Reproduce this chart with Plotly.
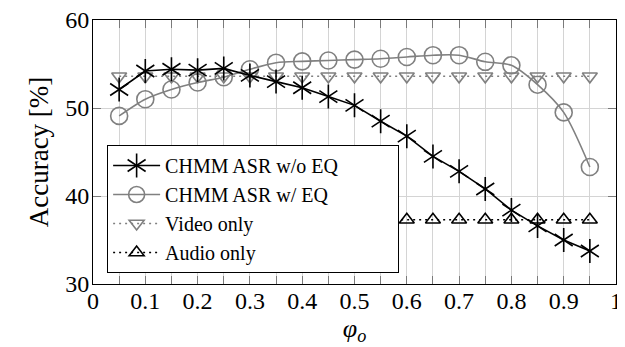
import plotly.graph_objects as go

phi = [0.05, 0.10, 0.15, 0.20, 0.25, 0.30, 0.35, 0.40, 0.45, 0.50,
       0.55, 0.60, 0.65, 0.70, 0.75, 0.80, 0.85, 0.90, 0.95]
chmm_wo_eq = [52.1, 54.2, 54.4, 54.3, 54.5, 53.7, 53.0, 52.3, 51.3, 50.3,
              48.5, 46.8, 44.5, 42.8, 40.8, 38.4, 36.6, 35.0, 33.75]
chmm_w_eq = [49.1, 51.0, 52.1, 52.9, 53.5, 54.4, 55.15, 55.3, 55.4, 55.5,
             55.6, 55.8, 56.0, 56.0, 55.25, 54.85, 52.65, 49.5, 43.3]
video_only = [53.6] * 19
audio_only = [37.3] * 19

names = ["CHMM ASR w/o EQ", "CHMM ASR w/ EQ", "Video only", "Audio only"]

FONT = "Liberation Serif"
GRAY = "#808080"
PAD = "\u00a0" * 11

fig = go.Figure()

fig.add_trace(go.Scatter(
    x=phi, y=video_only, name=names[2], mode="lines+markers",
    line=dict(color=GRAY, width=1.5, dash="2px,4px"),
    marker=dict(symbol="triangle-down-open", size=13, color=GRAY, line=dict(width=1.6)),
    legendrank=3))
fig.add_trace(go.Scatter(
    x=phi, y=audio_only, name=names[3], mode="lines+markers",
    line=dict(color="black", width=1.5, dash="2px,4px"),
    marker=dict(symbol="triangle-up-open", size=13, color="black", line=dict(width=1.6)),
    legendrank=4))
fig.add_trace(go.Scatter(
    x=phi, y=chmm_w_eq, name=names[1], mode="lines+markers",
    line=dict(color=GRAY, width=1.6, shape="spline", smoothing=0.8),
    marker=dict(symbol="circle-open", size=17, color=GRAY, line=dict(width=1.6)),
    legendrank=2))
fig.add_trace(go.Scatter(
    x=phi, y=chmm_wo_eq, name=names[0] + PAD, mode="lines+markers",
    line=dict(color="black", width=1.6),
    marker=dict(symbol="y-up-open", size=15, color="black", line=dict(width=1.6)),
    legendrank=1))
fig.add_trace(go.Scatter(
    x=phi, y=chmm_wo_eq, name="\u00a0", mode="markers", legend="legend2",
    marker=dict(symbol="y-down-open", size=15, color="black", line=dict(width=1.6))))

leg_common = dict(x=0.027, y=0.5265, xanchor="left", yanchor="top",
                  font=dict(family=FONT, size=20, color="black"),
                  itemwidth=47, borderwidth=1)

# the page adds an 8px body margin, so the figure is sized to fit the 625x347 window
fig.update_layout(
    width=617, height=339,
    margin=dict(l=85, r=9, t=12, b=63),
    paper_bgcolor="white", plot_bgcolor="white",
    font=dict(family=FONT, size=24, color="black"),
    showlegend=True,
    legend=dict(**leg_common, bgcolor="white", bordercolor="black",
                traceorder="normal"),
    legend2=dict(**leg_common, bgcolor="rgba(0,0,0,0)", bordercolor="rgba(0,0,0,0)"),
    xaxis=dict(
        range=[0, 1], dtick=0.1, tick0=0, tickformat="~g", automargin=False,
        showline=True, linecolor="black", linewidth=1, mirror="allticks",
        ticks="inside", ticklen=8, tickcolor="#7a7a7a", tickwidth=1,
        showgrid=True, gridcolor="#d4d4d4", gridwidth=1, zeroline=False,
        minor=dict(dtick=0.05, tick0=0, ticks="inside", ticklen=8,
                   tickcolor="#7a7a7a", showgrid=True, gridcolor="#d4d4d4"),
        tickfont=dict(family=FONT, size=24), ticklabelstandoff=-5,
        ticklabeloverflow="allow",
        title=dict(text="<i>φ</i><sub><i>o</i></sub>", font=dict(family=FONT, size=26), standoff=4),
    ),
    yaxis=dict(
        range=[30, 60], dtick=10, tick0=30, automargin=False,
        showline=True, linecolor="black", linewidth=1, mirror="allticks",
        ticks="inside", ticklen=8, tickcolor="#7a7a7a", tickwidth=1,
        showgrid=True, gridcolor="#d4d4d4", gridwidth=1, zeroline=False,
        tickfont=dict(family=FONT, size=24), ticklabelstandoff=-2,
        ticklabeloverflow="allow",
        title=dict(text="Accuracy [%]", font=dict(family=FONT, size=27), standoff=8),
    ),
)

fig.write_html("out.html")
